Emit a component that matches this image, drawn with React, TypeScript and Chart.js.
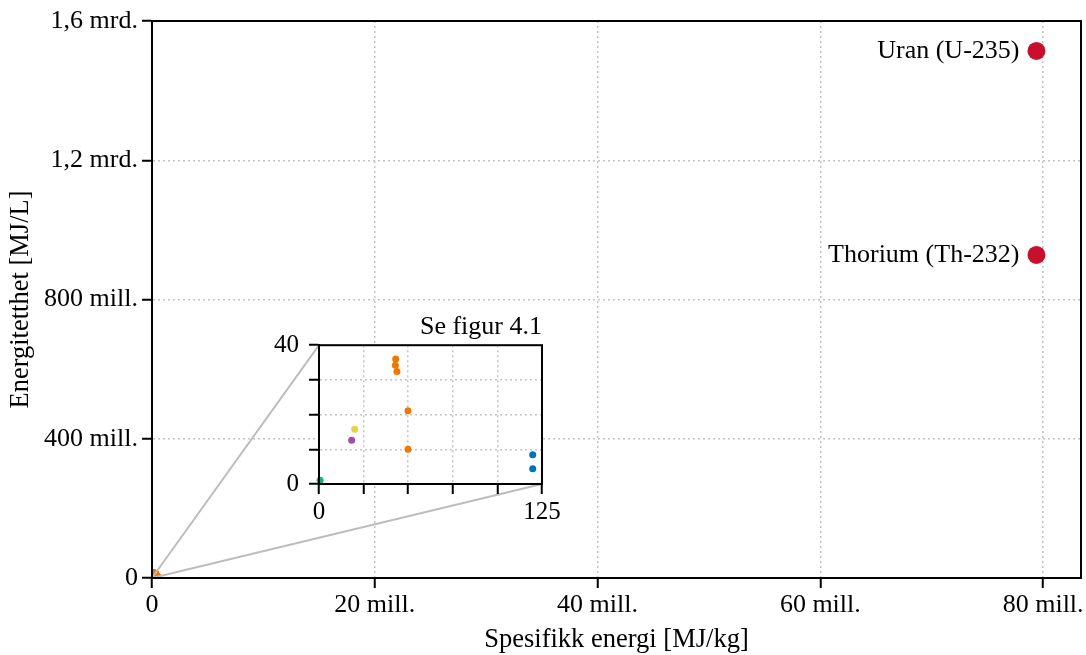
import React, { useEffect, useRef } from "react";
import { Chart, registerables } from "chart.js";

Chart.register(...registerables);

const FONT = '"Liberation Serif", "Times New Roman", serif';
const FS = 26;

// Nuclear fuels (main chart)
const nuclearNames = ["Uran (U-235)", "Thorium (Th-232)"];
const nuclearSpecificEnergy = [79.4e6, 79.4e6];
const nuclearEnergyDensity = [1.514e9, 0.928e9];
const nuclearColor = "#c8102e";

// Conventional fuels (inset + main near origin)
const fuelSpecificEnergy = [0.6, 18.3, 20.0, 119.8, 119.8, 43.0, 42.8, 43.7, 49.9, 49.9];
const fuelEnergyDensity = [1.1, 12.6, 15.8, 8.4, 4.4, 36.0, 34.2, 32.4, 21.1, 10.0];
const fuelColors = [
  "#17b085",
  "#a24ba8",
  "#e8d23e",
  "#0070c0",
  "#0070c0",
  "#f07800",
  "#f07800",
  "#f07800",
  "#f07800",
  "#f07800",
];

// Ticks
const mainXTicks = [0, 20e6, 40e6, 60e6, 80e6];
const mainXLabels = ["0", "20 mill.", "40 mill.", "60 mill.", "80 mill."];
const mainYTicks = [0, 400e6, 800e6, 1.2e9, 1.6e9];
const mainYLabels = ["0", "400 mill.", "800 mill.", "1,2 mrd.", "1,6 mrd."];
const insetXTicks = [0, 25, 50, 75, 100, 125];
const insetXLabels = ["0", "", "", "", "", "125"];
const insetYTicks = [0, 10, 20, 30, 40];
const insetYLabels = ["0", "", "", "", "40"];

const MAIN_X_MAX = 83.4e6;
const MAIN_Y_MAX = 1.6e9;
const INSET_X_MAX = 125;
const INSET_Y_MAX = 40;

const GRID = "#c4c4c4";

const PAGE_W = 1086;
const PAGE_H = 655;
const MAIN_CANVAS_W = 1090;

const INSET_LEFT = 270;
const INSET_TOP = 300;
const INSET_W = 300;
const INSET_H = 230;

function gridColor(max: number) {
  return (ctx: any) => {
    const v = ctx.tick ? ctx.tick.value : 0;
    return v === 0 || v === max ? "rgba(0,0,0,0)" : GRID;
  };
}

const framePlugin = {
  id: "frame",
  afterDraw(chart: any) {
    const { ctx, chartArea: a } = chart;
    ctx.save();
    ctx.strokeStyle = "#000";
    ctx.lineWidth = 2;
    ctx.strokeRect(a.left, a.top, a.right - a.left, a.bottom - a.top);
    ctx.restore();
  },
};

export default function App() {
  const mainRef = useRef<HTMLCanvasElement | null>(null);
  const insetRef = useRef<HTMLCanvasElement | null>(null);

  useEffect(() => {
    document.body.style.margin = "0";
    if (!mainRef.current || !insetRef.current) return;

    const insetBg = {
      id: "insetBg",
      beforeDraw(chart: any) {
        const { ctx, chartArea: a } = chart;
        ctx.save();
        ctx.fillStyle = "#fff";
        ctx.fillRect(a.left, a.top, a.right - a.left, a.bottom - a.top);
        ctx.restore();
      },
    };

    const inset = new Chart(insetRef.current, {
      type: "scatter",
      data: {
        datasets: [
          {
            data: fuelSpecificEnergy.map((x, i) => ({ x, y: fuelEnergyDensity[i] })),
            backgroundColor: fuelColors,
            pointRadius: 3.5,
            borderWidth: 0,
            clip: 6,
          },
        ],
      },
      options: {
        responsive: false,
        animation: false,
        events: [],
        layout: { padding: { top: 12, right: 28, left: 0, bottom: 0 } },
        plugins: {
          legend: { display: false },
          tooltip: { enabled: false },
          title: {
            display: true,
            text: "Se figur 4.1",
            align: "end",
            color: "#000",
            font: { family: FONT, size: FS, weight: "normal" },
            padding: { top: 0, bottom: 2 },
          },
        },
        scales: {
          x: {
            type: "linear",
            min: 0,
            max: INSET_X_MAX,
            afterBuildTicks: (s: any) => {
              s.ticks = insetXTicks.map((value) => ({ value }));
            },
            afterFit: (s: any) => {
              s.height = 46;
            },
            ticks: {
              autoSkip: false,
              maxRotation: 0,
              padding: 3,
              color: "#000",
              font: { family: FONT, size: 25 },
              callback: (v: any) => insetXLabels[insetXTicks.indexOf(Number(v))] ?? "",
            },
            grid: {
              color: gridColor(INSET_X_MAX),
              lineWidth: 1.5,
              tickLength: 10,
              tickColor: "#000",
              tickWidth: 2,
              tickBorderDash: [],
            },
            border: { display: true, color: "#000", width: 2, dash: [2, 3] },
          },
          y: {
            type: "linear",
            min: 0,
            max: INSET_Y_MAX,
            afterBuildTicks: (s: any) => {
              s.ticks = insetYTicks.map((value) => ({ value }));
            },
            afterFit: (s: any) => {
              s.width = 49;
            },
            ticks: {
              autoSkip: false,
              padding: 10,
              color: "#000",
              font: { family: FONT, size: 25 },
              callback: (v: any) => insetYLabels[insetYTicks.indexOf(Number(v))] ?? "",
            },
            grid: {
              color: gridColor(INSET_Y_MAX),
              lineWidth: 1.5,
              tickLength: 10,
              tickColor: "#000",
              tickWidth: 2,
              tickBorderDash: [],
            },
            border: { display: true, color: "#000", width: 2, dash: [2, 3] },
          },
        },
      } as any,
      plugins: [insetBg, framePlugin],
    });

    const connectorPlugin = {
      id: "connector",
      afterDatasetsDraw(chart: any) {
        const { ctx, scales } = chart;
        const ia = inset.chartArea;
        const x0 = scales.x.getPixelForValue(0);
        const y1 = scales.y.getPixelForValue(INSET_Y_MAX);
        const x1 = scales.x.getPixelForValue(INSET_X_MAX);
        const y0 = scales.y.getPixelForValue(0);
        ctx.save();
        ctx.strokeStyle = "#bdbdbd";
        ctx.lineWidth = 2;
        ctx.beginPath();
        ctx.moveTo(x0, y1);
        ctx.lineTo(INSET_LEFT + ia.left, INSET_TOP + ia.top);
        ctx.moveTo(x1, y0);
        ctx.lineTo(INSET_LEFT + ia.right, INSET_TOP + ia.bottom);
        ctx.stroke();
        ctx.restore();
      },
    };

    const labelPlugin = {
      id: "pointLabels",
      afterDatasetsDraw(chart: any) {
        const { ctx } = chart;
        const meta = chart.getDatasetMeta(1);
        ctx.save();
        ctx.fillStyle = "#000";
        ctx.font = `${FS}px ${FONT}`;
        ctx.textAlign = "right";
        ctx.textBaseline = "middle";
        meta.data.forEach((pt: any, i: number) => {
          ctx.fillText(nuclearNames[i], pt.x - 17, pt.y);
        });
        ctx.restore();
      },
    };

    const main = new Chart(mainRef.current, {
      type: "scatter",
      data: {
        datasets: [
          {
            data: fuelSpecificEnergy.map((x, i) => ({ x, y: fuelEnergyDensity[i] })),
            backgroundColor: fuelColors,
            pointRadius: 9,
            borderWidth: 0,
            clip: 0,
          },
          {
            data: nuclearSpecificEnergy.map((x, i) => ({ x, y: nuclearEnergyDensity[i] })),
            backgroundColor: nuclearColor,
            pointRadius: 9,
            borderWidth: 0,
            clip: 0,
          },
        ],
      },
      options: {
        responsive: false,
        animation: false,
        events: [],
        layout: { padding: { top: 21, right: 1, left: 0, bottom: 0 } },
        plugins: {
          legend: { display: false },
          tooltip: { enabled: false },
        },
        scales: {
          x: {
            type: "linear",
            min: 0,
            max: MAIN_X_MAX,
            afterBuildTicks: (s: any) => {
              s.ticks = mainXTicks.map((value) => ({ value }));
            },
            afterFit: (s: any) => {
              s.height = 77;
            },
            ticks: {
              autoSkip: false,
              maxRotation: 0,
              padding: 2,
              color: "#000",
              font: { family: FONT, size: FS },
              callback: (v: any) => mainXLabels[mainXTicks.indexOf(Number(v))] ?? "",
            },
            grid: {
              color: gridColor(MAIN_X_MAX),
              lineWidth: 1.5,
              tickLength: 10,
              tickColor: "#000",
              tickWidth: 2,
              tickBorderDash: [],
            },
            border: { display: true, color: "#000", width: 2, dash: [2, 3] },
            title: {
              display: true,
              text: "Spesifikk energi [MJ/kg]",
              color: "#000",
              font: { family: FONT, size: FS + 0.5, lineHeight: 1.1 },
              padding: { top: 0, bottom: 0 },
            },
          },
          y: {
            type: "linear",
            min: 0,
            max: MAIN_Y_MAX,
            afterBuildTicks: (s: any) => {
              s.ticks = mainYTicks.map((value) => ({ value }));
            },
            afterFit: (s: any) => {
              s.width = 152;
            },
            ticks: {
              autoSkip: false,
              padding: 4,
              color: "#000",
              font: { family: FONT, size: FS },
              callback: (v: any) => mainYLabels[mainYTicks.indexOf(Number(v))] ?? "",
            },
            grid: {
              color: gridColor(MAIN_Y_MAX),
              lineWidth: 1.5,
              tickLength: 10,
              tickColor: "#000",
              tickWidth: 2,
              tickBorderDash: [],
            },
            border: { display: true, color: "#000", width: 2, dash: [2, 3] },
            title: {
              display: true,
              text: "Energitetthet [MJ/L]",
              color: "#000",
              font: { family: FONT, size: FS + 0.5, lineHeight: 1.2 },
              padding: { top: 5, bottom: 0 },
            },
          },
        },
      } as any,
      plugins: [connectorPlugin, labelPlugin, framePlugin],
    });

    return () => {
      main.destroy();
      inset.destroy();
    };
  }, []);

  return (
    <div
      style={{
        position: "relative",
        width: PAGE_W,
        height: PAGE_H,
        overflow: "hidden",
        background: "#fff",
      }}
    >
      <canvas
        ref={mainRef}
        width={MAIN_CANVAS_W}
        height={PAGE_H}
        style={{ position: "absolute", left: 0, top: 0, width: MAIN_CANVAS_W, height: PAGE_H }}
      />
      <canvas
        ref={insetRef}
        width={INSET_W}
        height={INSET_H}
        style={{ position: "absolute", left: INSET_LEFT, top: INSET_TOP, width: INSET_W, height: INSET_H }}
      />
    </div>
  );
}
